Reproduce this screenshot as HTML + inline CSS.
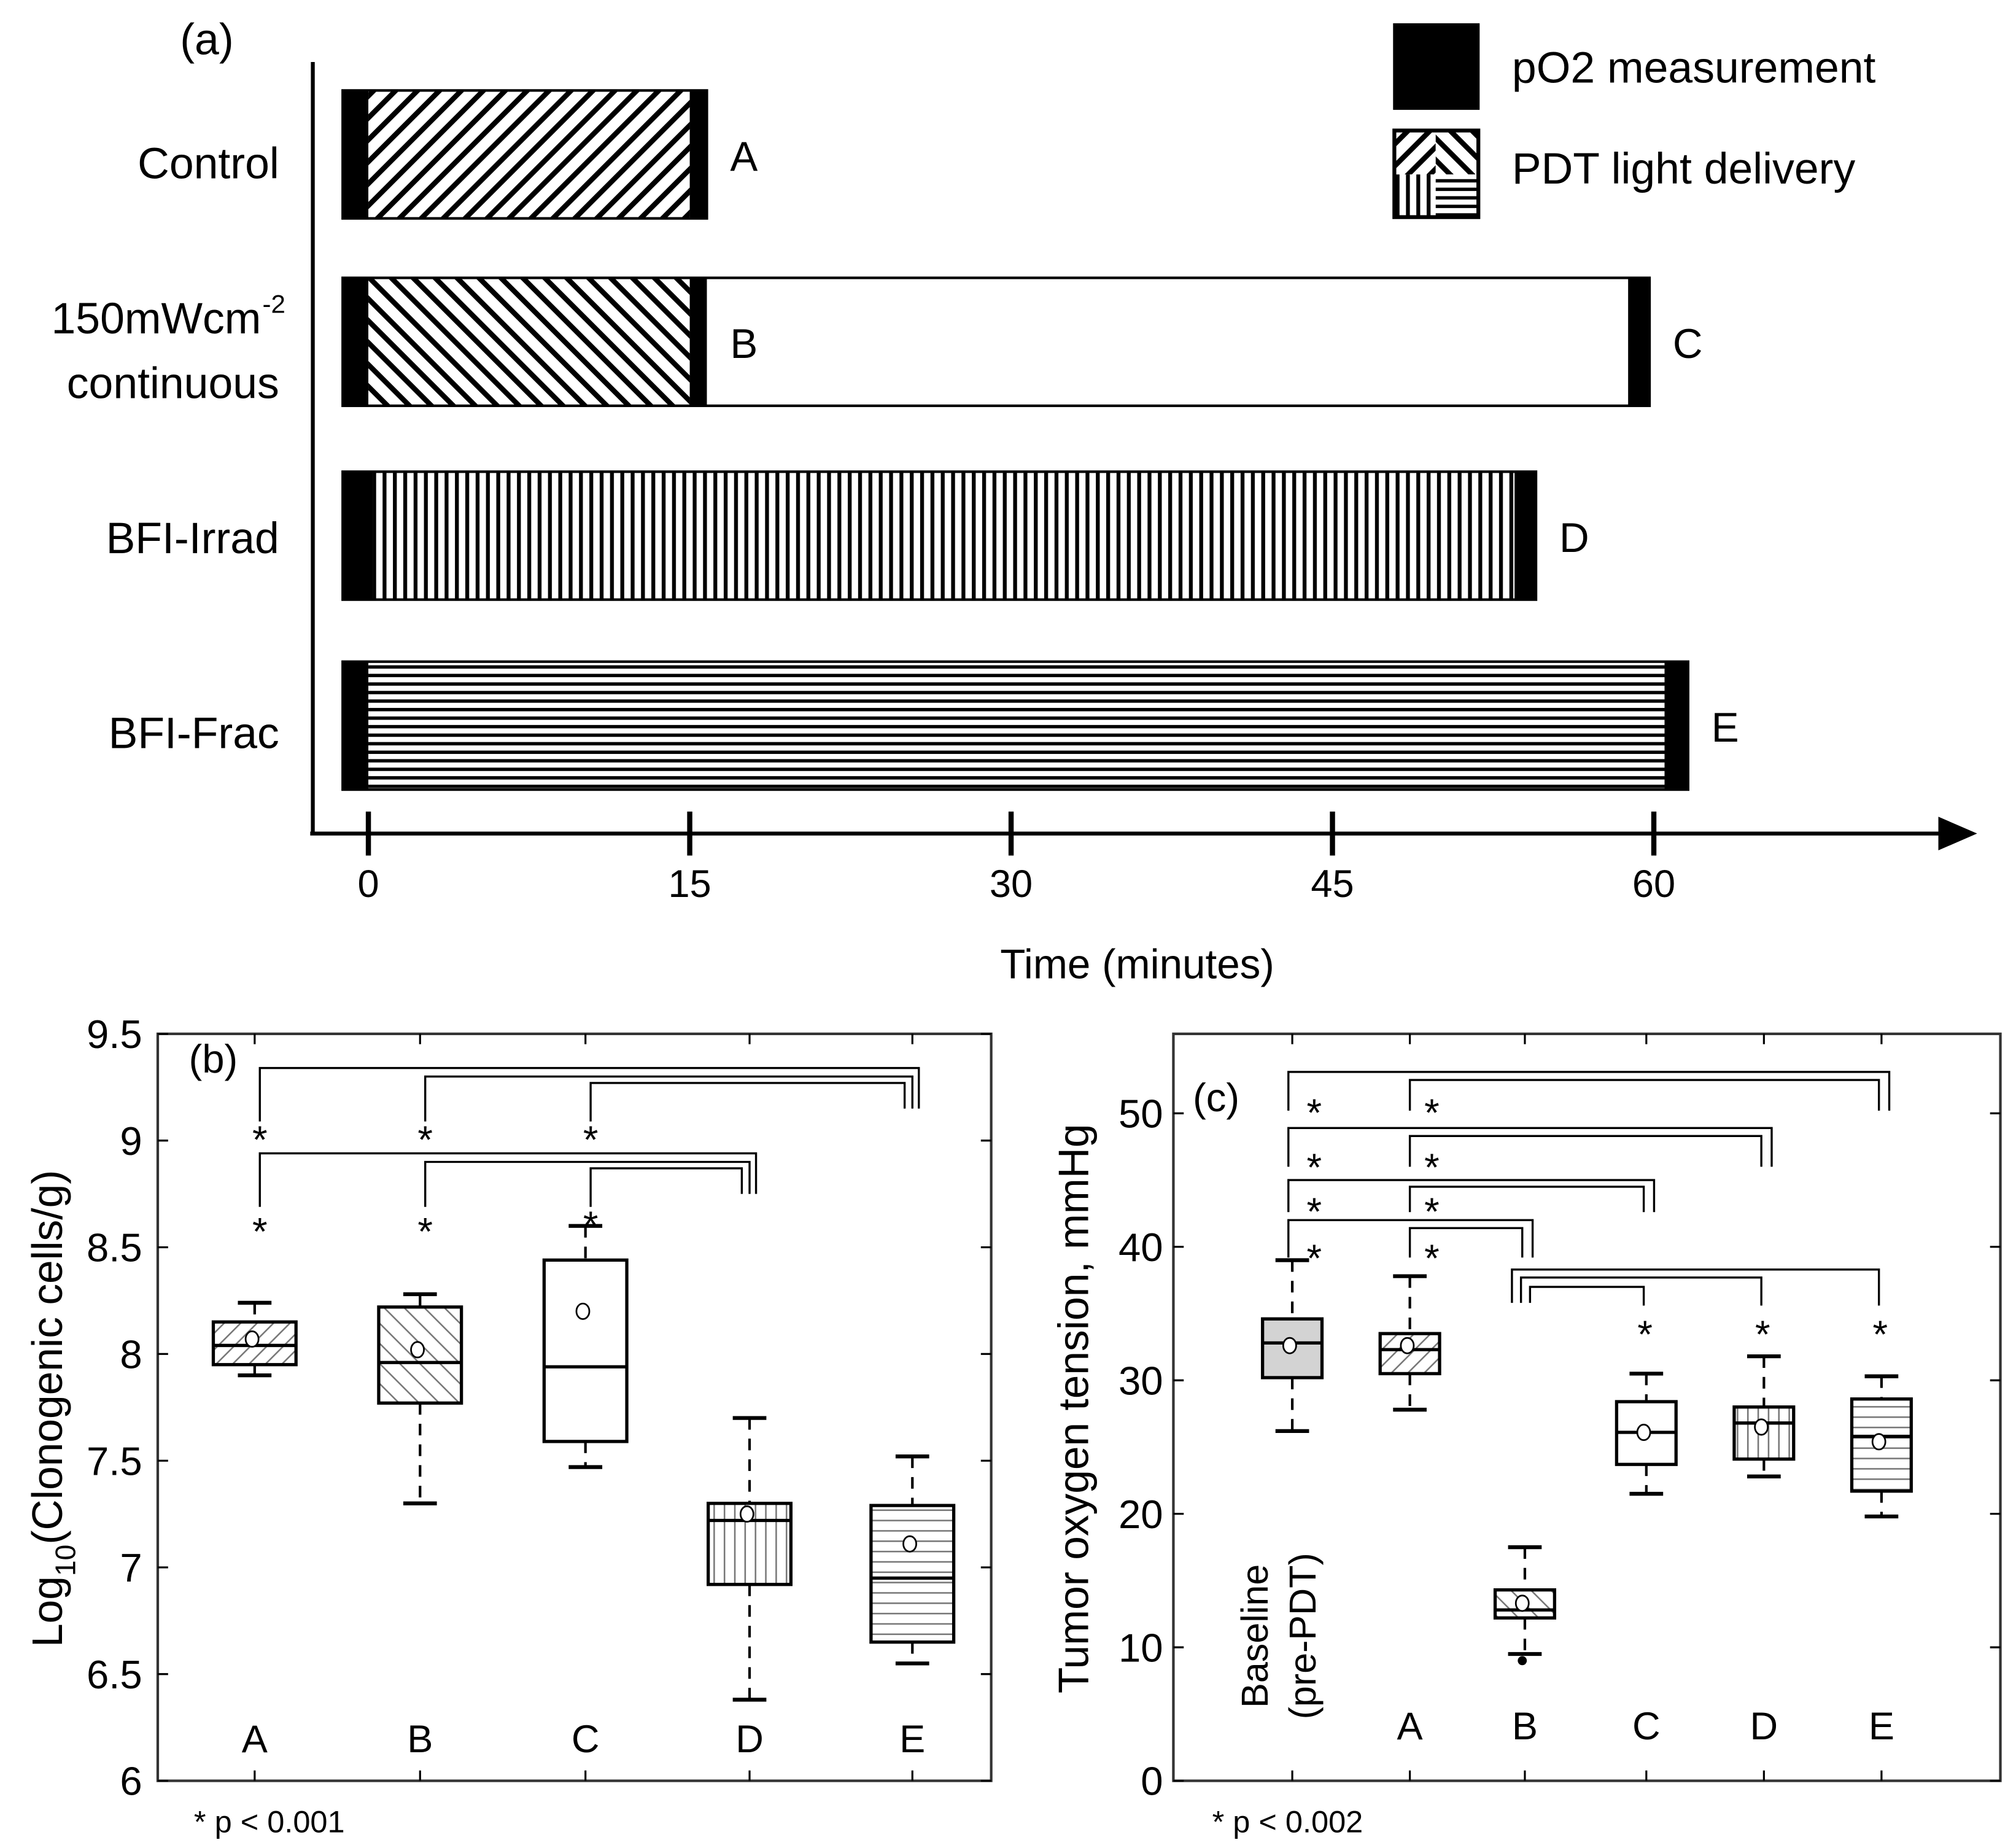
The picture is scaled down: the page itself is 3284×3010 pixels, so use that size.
<!DOCTYPE html>
<html><head><meta charset="utf-8"><style>
html,body{margin:0;padding:0;background:#fff;}
svg{display:block;font-family:"Liberation Sans",sans-serif;}
</style></head><body>
<svg id="fig" width="3284" height="3010" viewBox="0 0 1560 1430" xmlns="http://www.w3.org/2000/svg">
<defs>
<pattern id="hatchFwd" patternUnits="userSpaceOnUse" width="12" height="12" patternTransform="rotate(45)"><rect width="12" height="12" fill="#fff"/><rect x="0" y="0" width="4" height="12" fill="#000"/></pattern>
<pattern id="hatchBack" patternUnits="userSpaceOnUse" width="12" height="12" patternTransform="rotate(-45)"><rect width="12" height="12" fill="#fff"/><rect x="0" y="0" width="4" height="12" fill="#000"/></pattern>
<pattern id="vstripe" patternUnits="userSpaceOnUse" width="8" height="8"><rect width="8" height="8" fill="#fff"/><rect x="0" y="0" width="3" height="8" fill="#000"/></pattern>
<pattern id="hstripe" patternUnits="userSpaceOnUse" width="8" height="6.6"><rect width="8" height="6.6" fill="#fff"/><rect x="0" y="0" width="8" height="2.6" fill="#000"/></pattern>
<pattern id="gFwd" patternUnits="userSpaceOnUse" width="9" height="9" patternTransform="rotate(45)"><rect width="9" height="9" fill="#fff"/><rect width="1.2" height="9" fill="#777"/></pattern>
<pattern id="gBack" patternUnits="userSpaceOnUse" width="11" height="11" patternTransform="rotate(-45)"><rect width="11" height="11" fill="#fff"/><rect width="1.2" height="11" fill="#777"/></pattern>
<pattern id="gV" patternUnits="userSpaceOnUse" width="8" height="8"><rect width="8" height="8" fill="#fff"/><rect width="1.2" height="8" fill="#777"/></pattern>
<pattern id="gH" patternUnits="userSpaceOnUse" width="8" height="8"><rect width="8" height="8" fill="#fff"/><rect width="8" height="1.2" fill="#777"/></pattern>
</defs>
<g id="pa"></g>
<g id="pb"></g>
<g id="pc"></g>
</svg>
<script>
// ---------- Panel (a) data ----------
const aRows = ["Control", "150mWcm-2 continuous", "BFI-Irrad", "BFI-Frac"];
const aSegStart = [[-1.2, 0, 15], [-1.2, 0, 15, 15.8, 58.8], [-1.2, 0.2, 53.5], [-1.2, 0, 60.5]];
const aSegEnd = [[0, 15, 15.8], [0, 15, 15.8, 58.8, 59.8], [0.2, 53.5, 54.5], [0, 60.5, 61.6]];
const aSegType = [["m", "fwd", "m"], ["m", "back", "m", "none", "m"], ["m", "v", "m"], ["m", "h", "m"]];
const aEndLabels = [["A"], ["B", "C"], ["D"], ["E"]];
const aEndLabelAt = [[15.8], [15.8, 59.8], [54.5], [61.6]];
const aTicks = [0, 15, 30, 45, 60];

// ---------- Panel (b) data ----------
const bCats = ["A", "B", "C", "D", "E"];
const bWhiskLo = [7.9, 7.3, 7.47, 6.38, 6.55];
const bQ1 = [7.95, 7.77, 7.59, 6.92, 6.65];
const bMed = [8.04, 7.96, 7.94, 7.22, 6.95];
const bQ3 = [8.15, 8.22, 8.44, 7.3, 7.29];
const bWhiskHi = [8.24, 8.28, 8.6, 7.7, 7.52];
const bMean = [8.07, 8.02, 8.2, 7.25, 7.11];
const bTicks = [6, 6.5, 7, 7.5, 8, 8.5, 9, 9.5];
const bTickLabels = ["6", "6.5", "7", "7.5", "8", "8.5", "9", "9.5"];

// ---------- Panel (c) data ----------
const cCats = ["Baseline", "A", "B", "C", "D", "E"];
const cWhiskLo = [26.2, 27.8, 9.5, 21.5, 22.8, 19.8];
const cQ1 = [30.2, 30.5, 12.2, 23.7, 24.1, 21.7];
const cMed = [32.8, 32.3, 12.8, 26.1, 26.8, 25.8];
const cQ3 = [34.6, 33.5, 14.3, 28.4, 28.0, 28.6];
const cWhiskHi = [39, 37.8, 17.5, 30.5, 31.8, 30.3];
const cMean = [32.6, 32.6, 13.3, 26.1, 26.5, 25.4];
const cOutlier = [null, null, 9.0, null, null, null];
const cTicks = [0, 10, 20, 30, 40, 50];

const NS = "http://www.w3.org/2000/svg";
function mk(parent, tag, attrs, text) {
  const e = document.createElementNS(NS, tag);
  for (const k in attrs) e.setAttribute(k, attrs[k]);
  if (text !== undefined) e.textContent = text;
  parent.appendChild(e);
  return e;
}
function ln(p, x1, y1, x2, y2, w, dash) {
  const e = mk(p, "line", {x1: x1, y1: y1, x2: x2, y2: y2, stroke: "#000", "stroke-width": w || 2});
  if (dash) e.setAttribute("stroke-dasharray", dash);
  return e;
}

// ===== Panel A =====
const pa = document.getElementById("pa");
const xa = m => 285 + m * 16.58;
const rowTop = [70, 215, 365, 512];
const rowH = 99;
const fills = {m: "#000", fwd: "url(#hatchFwd)", back: "url(#hatchBack)", v: "url(#vstripe)", h: "url(#hstripe)", none: "#fff"};
let t = mk(pa, "text", {x: 160, y: 42, "font-size": 34, "text-anchor": "middle"}, "(a)");


let ax = ln(pa, 242, 48, 242, 646, 3);


ax = ln(pa, 240, 645, 1505, 645, 3);


ax = mk(pa, "polygon", {points: "1500,632 1530,645 1500,658", fill: "#000"});


aTicks.forEach(v => {
  const tk = ln(pa, xa(v), 628, xa(v), 662, 4);
  
  
  const tl = mk(pa, "text", {x: xa(v), y: 694, "font-size": 30, "text-anchor": "middle"}, String(v));
  
  
});
t = mk(pa, "text", {x: 880, y: 757, "font-size": 32, "text-anchor": "middle"}, "Time (minutes)");


aRows.forEach((r, i) => {
  const y = rowTop[i];
  const g = mk(pa, "g", {});
  
  
  const x0 = xa(aSegStart[i][0]), x1 = xa(aSegEnd[i][aSegEnd[i].length - 1]);
  aSegStart[i].forEach((s, j) => {
    const seg = mk(g, "rect", {x: xa(s), y: y, width: xa(aSegEnd[i][j]) - xa(s), height: rowH, fill: fills[aSegType[i][j]]});
    
    
  });
  mk(g, "rect", {x: x0, y: y, width: x1 - x0, height: rowH, fill: "none", stroke: "#000", "stroke-width": 2});
  aEndLabels[i].forEach((lab, j) => {
    const el = mk(pa, "text", {x: xa(aEndLabelAt[i][j]) + 18, y: y + 62, "font-size": 32}, lab);
    
    
  });
});
const rowLab = [[["Control", 138]], [["150mWcm", 258], ["continuous", 308]], [["BFI-Irrad", 428]], [["BFI-Frac", 579]]];
rowLab.forEach(rl => rl.forEach(([s, y]) => {
  const el = mk(pa, "text", {x: s === "150mWcm" ? 202 : 216, y: y, "font-size": 34, "text-anchor": "end"}, s);
  
  
  if (s === "150mWcm") {
    const sup = mk(pa, "text", {x: 203, y: 242, "font-size": 20}, "-2");
    
    
  }
}));
// legend
let lg = mk(pa, "g", {});


let le = mk(lg, "rect", {x: 1078, y: 18, width: 67, height: 67, fill: "#000"});


le = mk(lg, "text", {x: 1170, y: 64, "font-size": 34}, "pO2 measurement");


const sw = mk(lg, "g", {});


mk(sw, "rect", {x: 1079, y: 101, width: 32, height: 34, fill: "url(#hatchFwd)"});
mk(sw, "rect", {x: 1111, y: 101, width: 33, height: 34, fill: "url(#hatchBack)"});
mk(sw, "rect", {x: 1079, y: 135, width: 32, height: 33, fill: "url(#vstripe)"});
mk(sw, "rect", {x: 1111, y: 135, width: 33, height: 33, fill: "url(#hstripe)"});
mk(sw, "rect", {x: 1079, y: 101, width: 65, height: 67, fill: "none", stroke: "#000", "stroke-width": 3});
le = mk(lg, "text", {x: 1170, y: 142, "font-size": 34}, "PDT light delivery");



// ===== Box plot helper =====
function boxPanel(p, L, R, T, B, yf, cats, xs, lo, q1, med, q3, hi, mean, fillsArr, bw) {
  const frame = mk(p, "rect", {x: L, y: T, width: R - L, height: B - T, fill: "none", stroke: "#333", "stroke-width": 2});
  
  
  xs.forEach(x => { ln(p, x, B, x, B - 8, 1.5); ln(p, x, T, x, T + 8, 1.5); });
  cats.forEach((c, i) => {
    const x = xs[i];
    const g = mk(p, "g", {});
    
    
    const wl = ln(g, x, yf(hi[i]), x, yf(q3[i]), 2, "9,7");
    
    const wl2 = ln(g, x, yf(q1[i]), x, yf(lo[i]), 2, "9,7");
    
    ln(g, x - 13, yf(hi[i]), x + 13, yf(hi[i]), 3);
    ln(g, x - 13, yf(lo[i]), x + 13, yf(lo[i]), 3);
    const r = mk(g, "rect", {x: x - bw / 2, y: yf(q3[i]), width: bw, height: yf(q1[i]) - yf(q3[i]), fill: fillsArr[i], stroke: "#000", "stroke-width": 2.5});
    
    
    const m = ln(g, x - bw / 2, yf(med[i]), x + bw / 2, yf(med[i]), 2.5);
    
    const mc = mk(g, "ellipse", {cx: x - 2, cy: yf(mean[i]), rx: 5, ry: 6, fill: "#fff", stroke: "#000", "stroke-width": 1.3});
    
    
  });
}

// ===== Panel B =====
const pb = document.getElementById("pb");
const yb = v => 1378 - (v - 6) * 165.14;
const xbC = [197, 325, 453, 580, 706];
boxPanel(pb, 122, 767, 800, 1378, yb, bCats, xbC, bWhiskLo, bQ1, bMed, bQ3, bWhiskHi, bMean, ["url(#gFwd)", "url(#gBack)", "#fff", "url(#gV)", "url(#gH)"], 64);
bTicks.forEach((v, i) => {
  ln(pb, 122, yb(v), 130, yb(v), 1.5); ln(pb, 767, yb(v), 759, yb(v), 1.5);
  const tl = mk(pb, "text", {x: 110, y: yb(v) + 11, "font-size": 31, "text-anchor": "end"}, bTickLabels[i]);
  
  
});
bCats.forEach((c, i) => {
  const tl = mk(pb, "text", {x: xbC[i], y: 1356, "font-size": 30, "text-anchor": "middle"}, c);
  
  
});
t = mk(pb, "text", {x: 146, y: 830, "font-size": 31}, "(b)");


t = mk(pb, "text", {transform: "translate(48,1090) rotate(-90)", "font-size": 33, "text-anchor": "middle"});


mk(t, "tspan", {}, "Log");
mk(t, "tspan", {"font-size": 22, dy: 10}, "10");
mk(t, "tspan", {dy: -10}, "(Clonogenic cells/g)");
t = mk(pb, "text", {x: 150, y: 1418, "font-size": 24}, "* p < 0.001");


const bBrFrom = [0, 1, 2, 0, 1, 2];
const bBrTo = [4, 4, 4, 3, 3, 3];
const bBrTop = [9.34, 9.30, 9.27, 8.94, 8.90, 8.87];
const bBrLeg = [9.15, 9.15, 9.15, 8.75, 8.75, 8.75];
const bBrOff = [5, 0, -6, 5, 0, -6];
bBrFrom.forEach((f, i) => {
  const x1 = xbC[f] + 4, x2 = xbC[bBrTo[i]] + bBrOff[i];
  const br = mk(pb, "polyline", {points: `${x1},${yb(bBrLeg[i]) + 10} ${x1},${yb(bBrTop[i])} ${x2},${yb(bBrTop[i])} ${x2},${yb(bBrLeg[i])}`, fill: "none", stroke: "#000", "stroke-width": 1.6});
  
  
});
[9.05, 8.62].forEach(v => xbC.slice(0, 3).forEach((x, i) => {
  const s = mk(pb, "text", {x: x + 4, y: yb(v) + 18 - (i === 2 && v < 9 ? 5 : 0), "font-size": 30, "text-anchor": "middle"}, "*");
  
  
}));

// ===== Panel C =====
const pc = document.getElementById("pc");
const yc = v => 1378 - v * 10.33;
const xcC = [1000, 1091, 1180, 1274, 1365, 1456];
boxPanel(pc, 908, 1548, 800, 1378, yc, cCats, xcC, cWhiskLo, cQ1, cMed, cQ3, cWhiskHi, cMean, ["#d3d3d3", "url(#gFwd)", "url(#gBack)", "#fff", "url(#gV)", "url(#gH)"], 46);
cOutlier.forEach((v, i) => {
  if (v === null) return;
  const o = mk(pc, "circle", {cx: xcC[i] - 2, cy: yc(v), r: 3.5, fill: "#000"});
  
  
});
cTicks.forEach(v => {
  ln(pc, 908, yc(v), 916, yc(v), 1.5); ln(pc, 1548, yc(v), 1540, yc(v), 1.5);
  const tl = mk(pc, "text", {x: 900, y: yc(v) + 11, "font-size": 31, "text-anchor": "end"}, String(v));
  
  
});
cCats.slice(1).forEach((c, i) => {
  const tl = mk(pc, "text", {x: xcC[i + 1], y: 1346, "font-size": 30, "text-anchor": "middle"}, c);
  
  
});
t = mk(pc, "text", {transform: "translate(981,1266) rotate(-90)", "font-size": 29, "text-anchor": "middle"}, "Baseline");


t = mk(pc, "text", {transform: "translate(1018,1266) rotate(-90)", "font-size": 29, "text-anchor": "middle"}, "(pre-PDT)");


t = mk(pc, "text", {x: 923, y: 860, "font-size": 31}, "(c)");


t = mk(pc, "text", {transform: "translate(842,1090) rotate(-90)", "font-size": 33, "text-anchor": "middle"}, "Tumor oxygen tension, mmHg");


t = mk(pc, "text", {x: 938, y: 1418, "font-size": 24}, "* p < 0.002");


const cBrFrom = [0, 1, 0, 1, 0, 1, 0, 1, 2, 2, 2];
const cBrTo = [5, 5, 4, 4, 3, 3, 2, 2, 5, 4, 3];
const cBrTop = [53.1, 52.5, 48.9, 48.3, 45.0, 44.5, 42.0, 41.4, 38.3, 37.7, 37.0];
const cBrLegL = [50.2, 50.2, 46.0, 46.0, 42.6, 42.6, 39.2, 39.2, 35.8, 35.8, 35.8];
const cBrLegR = [50.2, 50.2, 46.0, 46.0, 42.6, 42.6, 39.2, 39.2, 35.6, 35.6, 35.6];
const cBrXL = [-3, 0, -3, 0, -3, 0, -3, 0, -10, -3, 4];
const cBrXR = [6, -2, 6, -2, 6, -2, 6, -2, -2, -2, -2];
cBrFrom.forEach((f, i) => {
  const x1 = xcC[f] + cBrXL[i], x2 = xcC[cBrTo[i]] + cBrXR[i];
  const br = mk(pc, "polyline", {points: `${x1},${yc(cBrLegL[i])} ${x1},${yc(cBrTop[i])} ${x2},${yc(cBrTop[i])} ${x2},${yc(cBrLegR[i])}`, fill: "none", stroke: "#000", "stroke-width": 1.6});
  
  
});
[50.8, 46.7, 43.4, 39.9].forEach(v => [0, 1].forEach(i => {
  const s = mk(pc, "text", {x: xcC[i] + 17, y: yc(v) + 18, "font-size": 30, "text-anchor": "middle"}, "*");
  
  
}));
[3, 4, 5].forEach(i => {
  const s = mk(pc, "text", {x: xcC[i] - 1, y: yc(34.2) + 18, "font-size": 30, "text-anchor": "middle"}, "*");
  
  
});
</script>
</body></html>
